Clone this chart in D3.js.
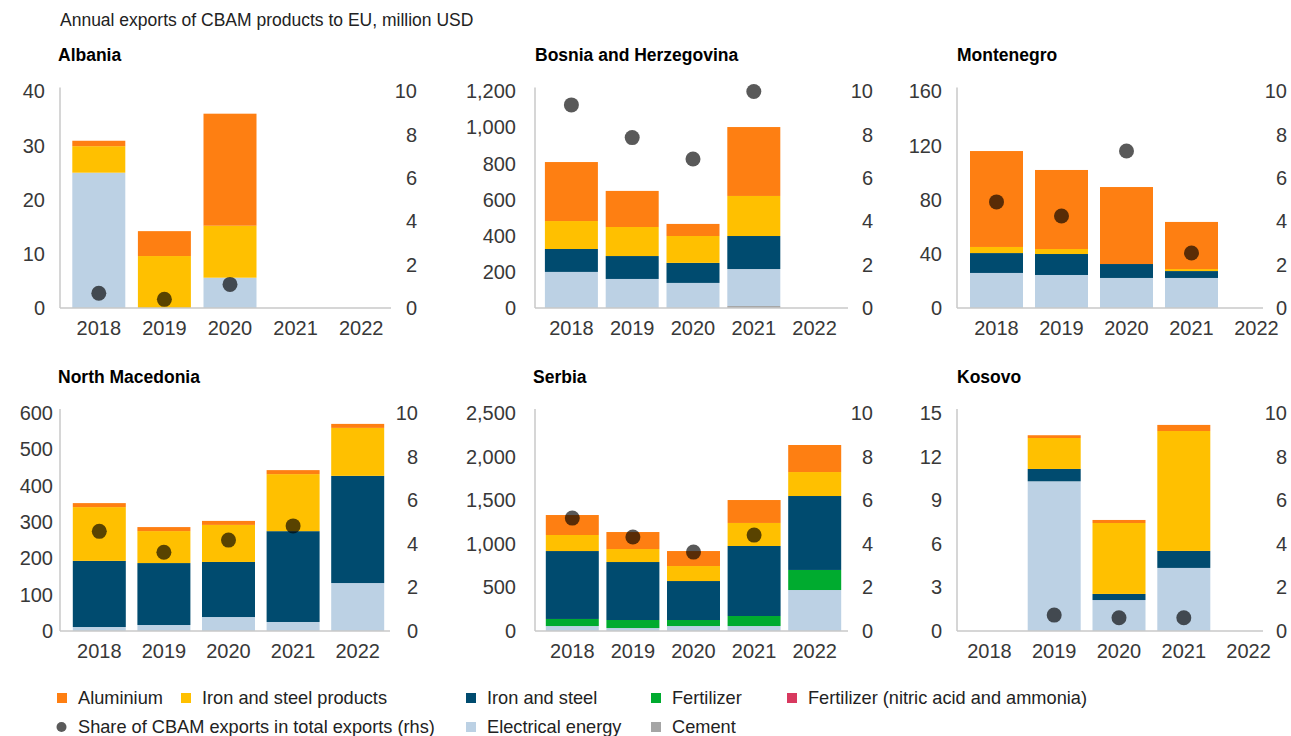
<!DOCTYPE html>
<html lang="en">
<head>
<meta charset="UTF-8">
<title>CBAM exports</title>
<style>
  body { margin: 0; background: #fff; }
  svg text { font-family: "Liberation Sans", Arial, sans-serif; }
</style>
</head>
<body>
<svg id="chart" width="1291" height="736"></svg>
<script src="https://cdn.jsdelivr.net/npm/d3@7"></script>
<script>
var years = ["2018", "2019", "2020", "2021", "2022"];
var countries = ["Albania", "Bosnia and Herzegovina", "Montenegro", "North Macedonia", "Serbia", "Kosovo"];

// million USD, one row per country (same order as countries), one value per year
var cement = [
  [0, 0, 0, 0, 0],
  [0, 0, 0, 11, 0],
  [0, 0, 0, 0, 0],
  [0, 0, 0, 0, 0],
  [0, 0, 0, 0, 0],
  [0, 0, 0, 0, 0]
];
var electrical = [
  [25.0, 0, 5.6, 0, 0],
  [200, 161, 139, 205, 0],
  [25.9, 24.4, 22.2, 22.2, 0],
  [11, 16.5, 38.5, 24.8, 132],
  [57, 34, 57, 57, 470],
  [0, 10.3, 2.13, 4.34, 0]
];
var fertilizer = [
  [0, 0, 0, 0, 0],
  [0, 0, 0, 0, 0],
  [0, 0, 0, 0, 0],
  [0, 0, 0, 0, 0],
  [81, 92, 69, 115, 230],
  [0, 0, 0, 0, 0]
];
var fertilizerNitric = [
  [0, 0, 0, 0, 0],
  [0, 0, 0, 0, 0],
  [0, 0, 0, 0, 0],
  [0, 0, 0, 0, 0],
  [0, 0, 0, 0, 0],
  [0, 0, 0, 0, 0]
];
var ironSteel = [
  [0, 0, 0, 0, 0],
  [127, 127, 111, 183, 0],
  [14.7, 15.5, 10.3, 5.1, 0],
  [182, 170.5, 151.5, 250, 295],
  [779, 665, 447, 803, 848],
  [0, 0.85, 0.42, 1.17, 0]
];
var ironSteelProducts = [
  [4.9, 9.6, 9.6, 0, 0],
  [155, 161, 149, 222, 0],
  [4.5, 3.7, 0, 1.5, 0],
  [148, 88, 102, 157, 132],
  [184, 149, 172, 264, 275],
  [0, 2.13, 4.88, 8.25, 0]
];
var aluminium = [
  [1.0, 4.6, 20.7, 0, 0],
  [327, 200, 67, 382, 0],
  [70.9, 58.4, 56.9, 34.8, 0],
  [11, 11, 11, 11, 11],
  [229, 195, 172, 263, 310],
  [0, 0.19, 0.21, 0.42, 0]
];
// share of CBAM exports in total exports, % (rhs)
var share = [
  [0.68, 0.40, 1.09, null, null],
  [9.38, 7.87, 6.88, 10.0, null],
  [4.9, 4.25, 7.25, 2.54, null],
  [4.57, 3.61, 4.17, 4.82, null],
  [5.18, 4.31, 3.62, 4.40, null],
  [null, 0.73, 0.61, 0.61, null]
];

var leftMax = [40, 1200, 160, 600, 2500, 15];
var leftStep = [10, 200, 40, 100, 500, 3];
var rightMax = 10, rightStep = 2;

var seriesNames = ["Cement", "Electrical energy", "Fertilizer", "Fertilizer (nitric acid and ammonia)",
                   "Iron and steel", "Iron and steel products", "Aluminium"];
var seriesData = [cement, electrical, fertilizer, fertilizerNitric, ironSteel, ironSteelProducts, aluminium];

var color = d3.scaleOrdinal()
  .domain(seriesNames)
  .range(["#a5a5a5", "#bcd1e4", "#00ab2f", "#d8395f", "#004b6f", "#ffc000", "#fe7f12"]);

// panel frames
var panels = [
  {ax: 60, xEnd: 391, band: [66, 394], top: 91.5, base: 308, lab: 45, rlab: 417, tx: 58, ty: 61},
  {ax: 535, xEnd: 848, band: [541, 845], top: 91.5, base: 308, lab: 516, rlab: 873, tx: 535, ty: 61},
  {ax: 957, xEnd: 1263, band: [964, 1289], top: 91.5, base: 308, lab: 942, rlab: 1287, tx: 957, ty: 61},
  {ax: 60, xEnd: 390, band: [67, 390], top: 413, base: 631, lab: 53, rlab: 418, tx: 58, ty: 383},
  {ax: 535, xEnd: 848, band: [542, 845], top: 413, base: 631, lab: 516, rlab: 873, tx: 533, ty: 383},
  {ax: 957, xEnd: 1263, band: [957, 1281], top: 413, base: 631, lab: 942, rlab: 1287, tx: 957, ty: 383}
];

var svg = d3.select("#chart");

svg.append("text")
  .attr("x", 60).attr("y", 26)
  .attr("font-size", 17.5).attr("fill", "#222")
  .text("Annual exports of CBAM products to EU, million USD");

countries.forEach(function(name, i) {
  var p = panels[i];
  var g = svg.append("g");

  var rows = years.map(function(yr, j) {
    var r = {year: yr};
    seriesNames.forEach(function(s, k) { r[s] = seriesData[k][i][j] || 0; });
    return r;
  });
  var stacked = d3.stack().keys(seriesNames)(rows);

  var step = (p.band[1] - p.band[0]) / years.length;
  var pad = 1 - 53 / step;
  var x = d3.scaleBand().domain(years).range(p.band).paddingInner(pad).paddingOuter(pad / 2);
  var y = d3.scaleLinear().domain([0, leftMax[i]]).range([p.base, p.top]);
  var yR = d3.scaleLinear().domain([0, rightMax]).range([p.base, p.top]);

  g.append("text")
    .attr("x", p.tx).attr("y", p.ty)
    .attr("font-size", 17.5).attr("font-weight", "bold").attr("fill", "#000")
    .text(name);

  g.selectAll(".layer")
    .data(stacked)
    .enter().append("g")
    .attr("fill", function(d) { return color(d.key); })
    .selectAll("rect")
    .data(function(d) { return d; })
    .enter().append("rect")
    .attr("x", function(d) { return x(d.data.year); })
    .attr("width", x.bandwidth())
    .attr("y", function(d) { return y(d[1]); })
    .attr("height", function(d) { return y(d[0]) - y(d[1]); });

  // axis lines
  g.append("line")
    .attr("x1", p.ax).attr("x2", p.ax)
    .attr("y1", p.top - 4).attr("y2", p.base)
    .attr("stroke", "#c8c8c8").attr("stroke-width", 1.5);
  g.append("line")
    .attr("x1", p.ax).attr("x2", p.xEnd)
    .attr("y1", p.base).attr("y2", p.base)
    .attr("stroke", "#c8c8c8").attr("stroke-width", 1.5);

  var fmt = d3.format(",");
  var left = g.append("g")
    .attr("transform", "translate(" + p.lab + ",0)")
    .call(d3.axisLeft(y).tickValues(d3.range(0, leftMax[i] + 1e-9, leftStep[i])).tickFormat(fmt).tickSize(0).tickPadding(0));
  var right = g.append("g")
    .attr("transform", "translate(" + p.rlab + ",0)")
    .call(d3.axisLeft(yR).tickValues(d3.range(0, rightMax + 1e-9, rightStep)).tickSize(0).tickPadding(0));
  var bottom = g.append("g")
    .attr("transform", "translate(0," + p.base + ")")
    .call(d3.axisBottom(x).tickSize(0).tickPadding(13));

  [left, right, bottom].forEach(function(a) {
    a.select(".domain").remove();
    a.selectAll("text")
      .attr("font-size", 20)
      .attr("fill", "#383838")
      .attr("font-family", "'Liberation Sans', Arial, sans-serif");
  });

  g.selectAll(".dot")
    .data(share[i].map(function(v, j) { return {year: years[j], v: v}; })
      .filter(function(d) { return d.v != null; }))
    .enter().append("circle")
    .attr("cx", function(d) { return x(d.year) + x.bandwidth() / 2; })
    .attr("cy", function(d) { return yR(d.v); })
    .attr("r", 7.5)
    .attr("fill", "#000")
    .attr("fill-opacity", 0.65);
});

// legend
var legendItems = [
  {name: "Aluminium", x: 57, y: 698},
  {name: "Iron and steel products", x: 181, y: 698},
  {name: "Iron and steel", x: 466, y: 698},
  {name: "Fertilizer", x: 651, y: 698},
  {name: "Fertilizer (nitric acid and ammonia)", x: 787, y: 698},
  {name: "Share of CBAM exports in total exports (rhs)", x: 57, y: 727, dot: true},
  {name: "Electrical energy", x: 466, y: 727},
  {name: "Cement", x: 651, y: 727}
];

var leg = svg.append("g");
legendItems.forEach(function(it) {
  if (it.dot) {
    leg.append("circle")
      .attr("cx", it.x + 4.5).attr("cy", it.y)
      .attr("r", 5).attr("fill", "#5a5a5a");
  } else {
    leg.append("rect")
      .attr("x", it.x).attr("y", it.y - 5)
      .attr("width", 10).attr("height", 10)
      .attr("fill", color(it.name));
  }
  leg.append("text")
    .attr("x", it.x + 21).attr("y", it.y + 6)
    .attr("font-size", 18.2).attr("fill", "#222")
    .text(it.name);
});
</script>
</body>
</html>
